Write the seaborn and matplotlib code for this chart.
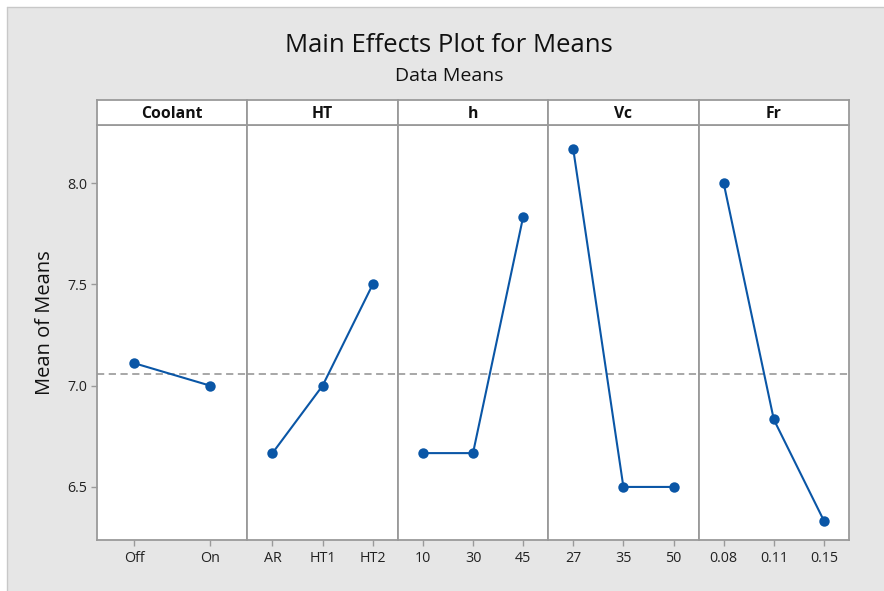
import matplotlib
matplotlib.use("Agg")
import matplotlib.pyplot as plt
import numpy as np
import pandas as pd
import seaborn as sns
from matplotlib.patches import Rectangle
from matplotlib.lines import Line2D

# factor levels and their mean responses
factors = ["Coolant", "HT", "h", "Vc", "Fr"]
levels = {
    "Coolant": ["Off", "On"],
    "HT": ["AR", "HT1", "HT2"],
    "h": ["10", "30", "45"],
    "Vc": ["27", "35", "50"],
    "Fr": ["0.08", "0.11", "0.15"],
}
means = {
    "Coolant": [7.111, 7.000],
    "HT": [6.667, 7.000, 7.500],
    "h": [6.667, 6.667, 7.833],
    "Vc": [8.167, 6.500, 6.500],
    "Fr": [8.000, 6.833, 6.333],
}
grand_mean = 7.0556
y_ticks = [6.5, 7.0, 7.5, 8.0]

sns.set_theme(style="white")
plt.rcParams["font.family"] = ["Open Sans", "DejaVu Sans"]

W, H = 884, 591
fig = plt.figure(figsize=(W / 100, H / 100), dpi=100)
fig.patch.set_facecolor("white")
# grey backdrop with a thin darker edge at the top and left
bg = Rectangle((7 / W, 0), 1, 1 - 7 / H, transform=fig.transFigure,
               facecolor="#e6e6e6", edgecolor="none", zorder=-10)
fig.patches.append(bg)
fig.lines.append(Line2D([7 / W, 1], [1 - 7 / H] * 2, transform=fig.transFigure,
                        color="#c8c8c8", lw=1))
fig.lines.append(Line2D([7 / W] * 2, [0, 1 - 7 / H], transform=fig.transFigure,
                        color="#c8c8c8", lw=1))

blue = "#0a56a6"
frame = "#9a9a9a"
x0, x1 = 97 / W, 849 / W
y_bot, y_top = 1 - 540 / H, 1 - 125 / H
strip_h = 25 / H
pw = (x1 - x0) / len(factors)

axes = []
for i, f in enumerate(factors):
    ax = fig.add_axes([x0 + i * pw, y_bot, pw, y_top - y_bot])
    df = pd.DataFrame({"pos": np.arange(len(levels[f])), "mean": means[f]})
    sns.lineplot(data=df, x="pos", y="mean", ax=ax, color=blue, lw=1.5,
                 marker="o", markersize=7.5, markeredgewidth=0,
                 markeredgecolor=blue)
    ax.axhline(grand_mean, color="#a0a0a0", ls=(0, (4, 2.5)), lw=1.3,
               zorder=0)
    n = len(levels[f])
    pad = 0.49 if n == 2 else 0.5
    ax.set_xlim(-pad, n - 1 + pad)
    ax.set_ylim(6.238, 8.287)
    ax.set_xticks(range(n))
    ax.set_xticklabels(levels[f])
    ax.set_xlabel("")
    ax.set_ylabel("")
    ax.set_facecolor("white")
    for s in ax.spines.values():
        s.set_color(frame)
        s.set_linewidth(1.3)
    ax.tick_params(axis="x", bottom=True, length=4, width=1, color=frame,
                   labelsize=10.3, pad=4, labelcolor="#222222")
    if i == 0:
        ax.set_yticks(y_ticks)
        ax.set_yticklabels([f"{v:.1f}" for v in y_ticks])
        ax.tick_params(axis="y", left=True, length=4, width=1, color=frame,
                       labelsize=10.3, pad=3, labelcolor="#222222")
    else:
        ax.set_yticks([])

    # strip with factor name
    sax = fig.add_axes([x0 + i * pw, y_top, pw, strip_h])
    sax.set_xticks([])
    sax.set_yticks([])
    sax.set_facecolor("white")
    for s in sax.spines.values():
        s.set_color(frame)
        s.set_linewidth(1.3)
    sax.text(0.5, 0.45, f, ha="center", va="center", fontsize=11.3,
             fontweight="bold", color="#111111", transform=sax.transAxes)
    axes.append(ax)

fig.text(45 / W, 1 - 323 / H, "Mean of Means", rotation=90,
         ha="center", va="center", fontsize=14.5, color="#111111")
fig.text(449 / W, 1 - 46 / H, "Main Effects Plot for Means", ha="center",
         va="center", fontsize=18.5, color="#111111")
fig.text(449 / W, 1 - 76 / H, "Data Means", ha="center", va="center",
         fontsize=14, color="#111111")

fig.savefig("out.png", dpi=100)
